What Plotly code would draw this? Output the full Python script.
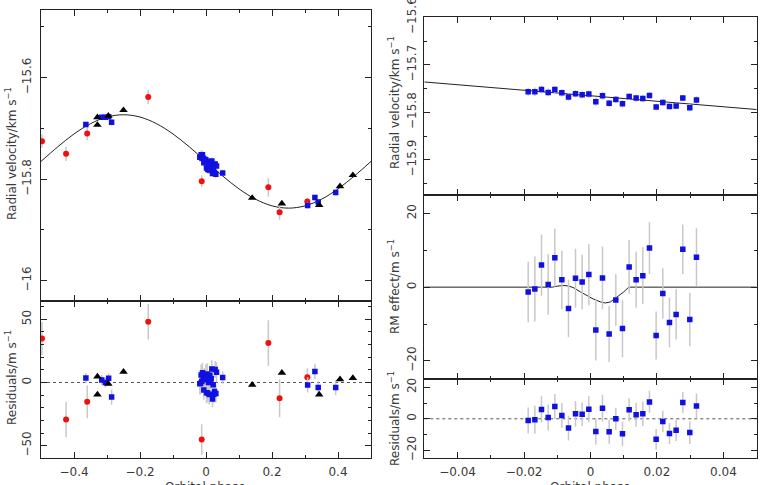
import plotly.graph_objects as go

W, H = 763, 485

# ---------------- data ----------------
# Left column: full orbit
phase_red = [-0.497, -0.424, -0.360, -0.175, -0.013, 0.189, 0.223, 0.307]
rv_red = [-15.725, -15.750, -15.710, -15.638, -15.804, -15.816, -15.865, -15.844]
res_red = [34.8, -29.3, -15.3, 48.0, -45.1, 31.2, -12.4, 4.2]
err_red = [13, 14, 13, 14, 12, 18, 15, 7]

phase_blue = [-0.364, -0.316, -0.305, -0.295, -0.286, 0.0505, 0.308, 0.330, 0.340, 0.393]
rv_blue = [-15.692, -15.678, -15.678, -15.677, -15.688, -15.788, -15.852, -15.836, -15.845, -15.826]
res_blue = [3.6, 1.9, 0.0, 3.3, -11.5, 4.0, -1.9, 8.8, -4.0, -4.0]
err_blue = [4, 4, 4, 4, 6, 5, 6, 6, 5, 6]

phase_blk = [-0.329, -0.329, -0.296, -0.250, 0.140, 0.230, 0.343, 0.406, 0.445]
rv_blk = [-15.678, -15.693, -15.675, -15.664, -15.837, -15.848, -15.851, -15.814, -15.792]
res_blk = [4.7, -9.5, -1.0, 8.5, -1.8, 7.7, -9.5, 2.5, 3.5]

orbit_phase = [-0.50, -0.45, -0.40, -0.35, -0.30, -0.25, -0.20, -0.15, -0.10, -0.05, 0.0,
               0.05, 0.10, 0.15, 0.20, 0.25, 0.30, 0.35, 0.40, 0.45, 0.50]
orbit_rv = [-15.765, -15.7366, -15.7109, -15.6906, -15.6775, -15.673, -15.6775, -15.6906,
            -15.7109, -15.7366, -15.765, -15.7934, -15.8191, -15.8394, -15.8525, -15.857,
            -15.8525, -15.8394, -15.8191, -15.7934, -15.765]

# Right column: transit night
phase_rm = [-0.01875, -0.01674, -0.01474, -0.01273, -0.01073, -0.00862, -0.00662, -0.00451,
            -0.00251, -0.00050, 0.00160, 0.00361, 0.00561, 0.00762, 0.00962, 0.01163,
            0.01373, 0.01574, 0.01774, 0.01975, 0.02175, 0.02376, 0.02576, 0.02777,
            0.02987, 0.03188]
rv_rm = [-15.7566, -15.7566, -15.7516, -15.7580, -15.7516, -15.7587, -15.7678, -15.7608,
         -15.7630, -15.7615, -15.7777, -15.7650, -15.7810, -15.7727, -15.7820, -15.7664,
         -15.7699, -15.7706, -15.7643, -15.7888, -15.7790, -15.7874, -15.7867, -15.7699,
         -15.7903, -15.7741]
rm_eff = [-1.3, -0.5, 6.0, 0.7, 8.0, 2.0, -5.8, 2.4, 1.4, 3.4, -11.6, 2.5, -12.7, -3.5,
          -11.2, 5.5, 2.0, 3.1, 10.6, -13.1, -1.7, -9.6, -7.4, 10.3, -8.8, 8.1]
res_rm = [-1.0, -0.6, 5.9, 0.8, 7.8, 2.1, -5.9, 3.2, 2.9, 6.1, -8.0, 6.7, -8.2, 0.0,
          -9.5, 5.7, 2.5, 3.2, 10.7, -13.0, -1.7, -9.3, -7.2, 10.3, -8.7, 8.1]
err_rm = [8.2, 8.8, 8.3, 8.2, 7.9, 7.9, 7.8, 8.0, 7.4, 8.3, 8.3, 8.5, 7.6, 7.0, 7.8, 7.3,
          7.6, 7.7, 7.0, 6.5, 6.8, 6.7, 6.8, 6.7, 7.2, 7.9]

line_phase = [-0.05, 0.05]
line_rv = [-15.736, -15.794]

rm_model_phase = [-0.05, -0.0115, -0.0098, -0.008, -0.0065, -0.005, -0.003, -0.001, 0.001,
                  0.003, 0.0045, 0.006, 0.008, 0.010, 0.0115, 0.05]
rm_model = [0, 0, 0.3, 0.45, 0.3, -0.2, -1.3, -2.4, -3.3, -4.0, -4.3, -4.0, -2.7, -1.3, 0, 0]

# ---------------- styling ----------------
FONT = "DejaVu Sans"
TXT = "#3a3a3a"
AX = "#222222"
ERR = "#c8c8c8"
RED = "#f01010"
BLUE = "#1010e0"


def px_x(p):
    return p / W


def px_y(p):
    return 1 - p / H


def axis(domain, rng, dtick, minor, tick0=0, labels=True, anchor=None, angle=None, standoff=5):
    d = dict(domain=domain, range=rng, tick0=tick0, dtick=dtick, ticks="inside",
             ticklen=6, tickwidth=1, tickcolor=AX, showline=True, linecolor=AX,
             linewidth=1, mirror="ticks", showgrid=False, zeroline=False,
             showticklabels=labels, tickfont=dict(family=FONT, size=12, color=TXT),
             ticklabelstandoff=standoff, ticklabeloverflow="allow", automargin=False,
             minor=dict(dtick=minor, ticks="inside", ticklen=3, tickcolor=AX, showgrid=False),
             anchor=anchor)
    if angle is not None:
        d["tickangle"] = angle
    return d


xl = [px_x(41), px_x(371)]
xr = [px_x(424.3), px_x(756.7)]

fig = go.Figure()


def pts(x, y, err, color, symbol, size, xa, ya, ecolor=ERR):
    kw = dict(x=x, y=y, mode="markers", xaxis=xa, yaxis=ya, showlegend=False,
              marker=dict(color=color, symbol=symbol, size=size, line=dict(width=0)))
    if err is not None:
        kw["error_y"] = dict(type="data", array=err, color=ecolor, thickness=1.5, width=0)
    fig.add_trace(go.Scatter(**kw))


# Left top: RV vs orbital phase
fig.add_trace(go.Scatter(x=orbit_phase, y=orbit_rv, mode="lines", line=dict(color=AX, width=1, shape="spline"),
                         xaxis="x", yaxis="y", showlegend=False))
pts(phase_red, rv_red, [e / 1000 for e in err_red], RED, "circle", 6, "x", "y")
pts(phase_blue, rv_blue, [e / 1000 for e in err_blue], BLUE, "square", 5.5, "x", "y")
pts(phase_rm, rv_rm, [e / 1000 for e in err_rm], BLUE, "square", 5.5, "x", "y")
pts(phase_blk, rv_blk, None, "black", "triangle-up", 7.5, "x", "y")

# Left bottom: residuals
fig.add_trace(go.Scatter(x=[-0.5, 0.5], y=[0, 0], mode="lines", line=dict(color="#555", width=1, dash="dot"),
                         xaxis="x2", yaxis="y2", showlegend=False))
pts(phase_red, res_red, err_red, RED, "circle", 6, "x2", "y2")
pts(phase_blue, res_blue, err_blue, BLUE, "square", 5.5, "x2", "y2")
pts(phase_rm, res_rm, err_rm, BLUE, "square", 5.5, "x2", "y2")
pts(phase_blk, res_blk, None, "black", "triangle-up", 7.5, "x2", "y2")

# Right top: RV zoom
fig.add_trace(go.Scatter(x=line_phase, y=line_rv, mode="lines", line=dict(color=AX, width=1),
                         xaxis="x3", yaxis="y3", showlegend=False))
pts(phase_rm, rv_rm, [e / 1000 for e in err_rm], BLUE, "square", 5.5, "x3", "y3")

# Right middle: RM effect
fig.add_trace(go.Scatter(x=rm_model_phase, y=rm_model, mode="lines", line=dict(color=AX, width=1),
                         xaxis="x4", yaxis="y4", showlegend=False))
pts(phase_rm, rm_eff, err_rm, BLUE, "square", 5.5, "x4", "y4")

# Right bottom: residuals
fig.add_trace(go.Scatter(x=[-0.05, 0.05], y=[0, 0], mode="lines", line=dict(color="#555", width=1, dash="dot"),
                         xaxis="x5", yaxis="y5", showlegend=False))
pts(phase_rm, res_rm, err_rm, BLUE, "square", 5.5, "x5", "y5")

fig.update_layout(
    width=W, height=H, margin=dict(l=0, r=0, t=0, b=0, pad=0, autoexpand=False),
    paper_bgcolor="white", plot_bgcolor="white",
    xaxis=axis(xl, [-0.5, 0.5], 0.2, 0.1, labels=False, anchor="y"),
    yaxis=axis([px_y(300.7), px_y(10)], [-16.0394, -15.4666], 0.2, 0.1, tick0=-16, anchor="x", angle=-90, standoff=4),
    xaxis2=axis(xl, [-0.5, 0.5], 0.2, 0.1, anchor="y2", standoff=3),
    yaxis2=axis([px_y(458), px_y(300.7)], [-59.7, 64.7], 50, 10, anchor="x2", angle=-90, standoff=4),
    xaxis3=axis(xr, [-0.05, 0.05], 0.02, 0.01, labels=False, anchor="y3"),
    yaxis3=axis([px_y(195), px_y(17.3)], [-15.974, -15.5998], 0.1, 0.05, tick0=-15.6, anchor="x3", angle=-90, standoff=3),
    xaxis4=axis(xr, [-0.05, 0.05], 0.02, 0.01, labels=False, anchor="y4"),
    yaxis4=axis([px_y(379.3), px_y(195)], [-25, 25], 20, 10, anchor="x4", angle=-90, standoff=3),
    xaxis5=axis(xr, [-0.05, 0.05], 0.02, 0.01, anchor="y5", standoff=2),
    yaxis5=axis([px_y(458.3), px_y(379.3)], [-25, 25], 20, 10, anchor="x5", angle=-90, standoff=3),
)

ann_font = dict(family=FONT, size=12, color=TXT)
titles = [
    ("Radial velocity/km s<sup>−1</sup>", 11, 154, -90),
    ("Residuals/m s<sup>−1</sup>", 11, 378, -90),
    ("Radial velocity/km s<sup>−1</sup>", 394, 103, -90),
    ("RM effect/m s<sup>−1</sup>", 394, 287, -90),
    ("Residuals/m s<sup>−1</sup>", 394, 419, -90),
]
for text, x, y, ang in titles:
    fig.add_annotation(text=text, x=px_x(x), y=px_y(y), xref="paper", yref="paper",
                       showarrow=False, textangle=ang, font=ann_font,
                       xanchor="center", yanchor="middle")
for x in (206, 590):
    fig.add_annotation(text="Orbital phase", x=px_x(x), y=px_y(478), xref="paper", yref="paper",
                       showarrow=False, font=ann_font, xanchor="center", yanchor="top")

fig.write_html("out.html")
